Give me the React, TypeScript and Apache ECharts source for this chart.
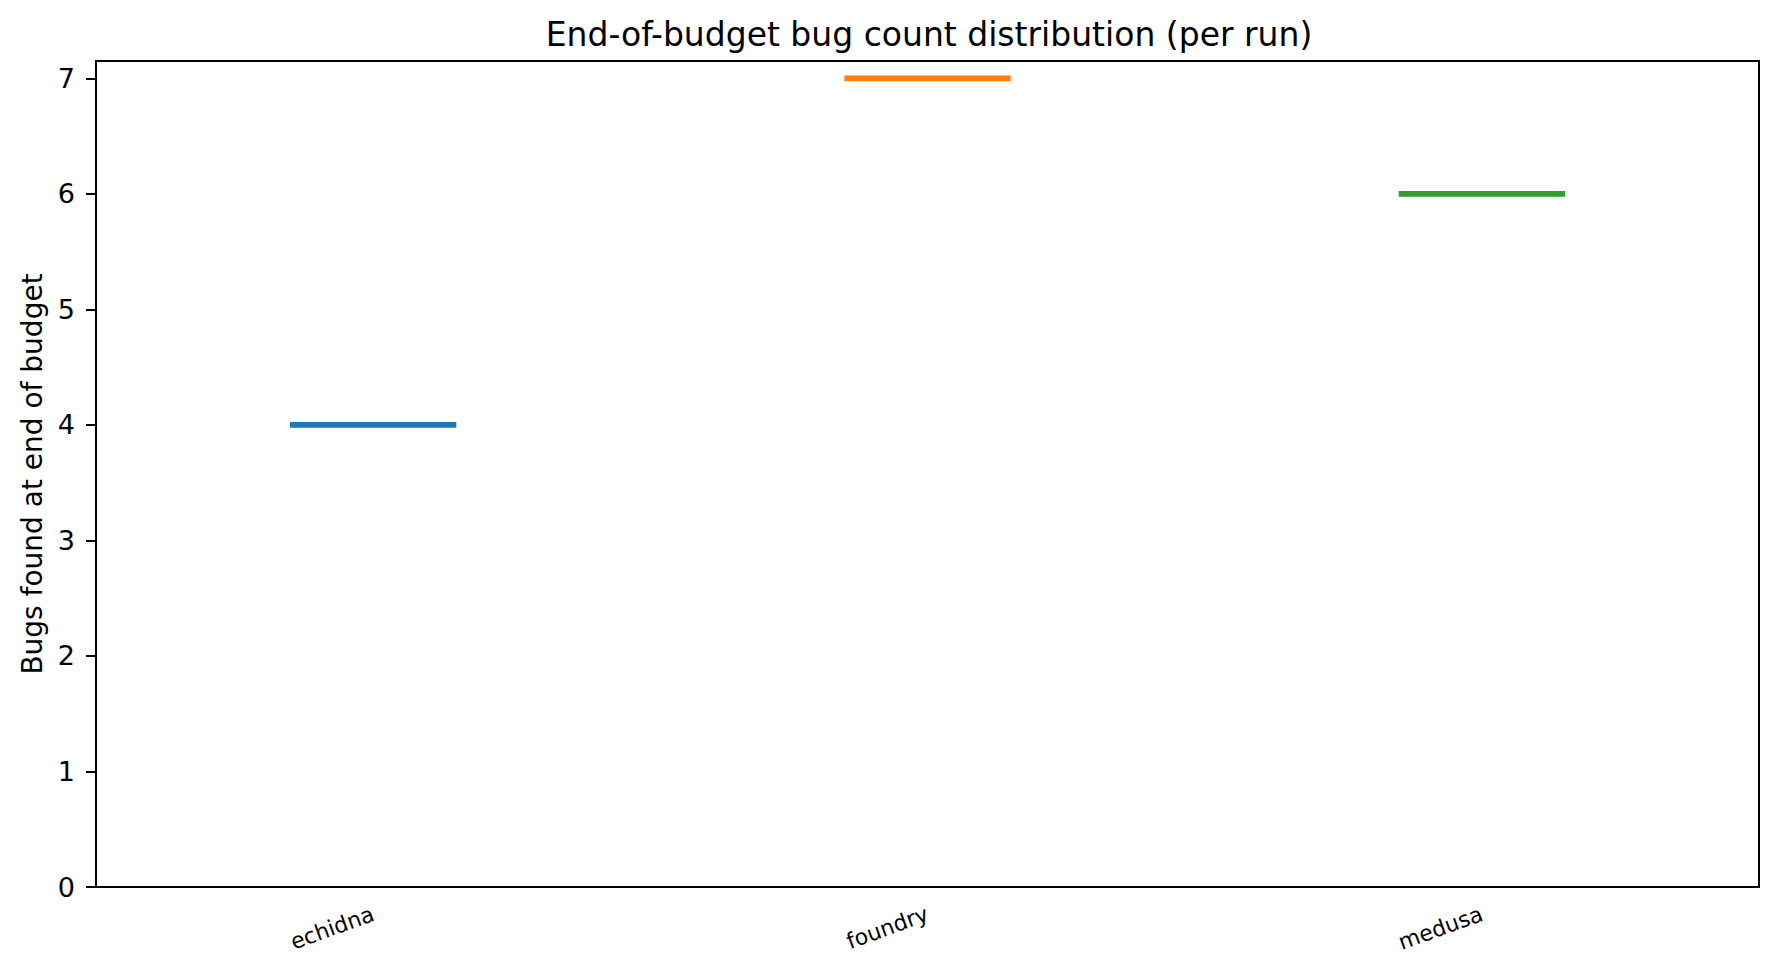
import { useEffect, useRef } from 'react'
import * as echarts from 'echarts'

const tools = ['echidna', 'foundry', 'medusa']
const bugCounts = [4, 7, 6]
const toolColors = ['#1f77b4', '#ff7f0e', '#2ca02c']
const yTicks = [0, 1, 2, 3, 4, 5, 6, 7]
const yMax = 7.15

const FONT = 'DejaVu Sans, sans-serif'

export default function App() {
  const chartRef = useRef<HTMLDivElement>(null)

  useEffect(() => {
    if (!chartRef.current) return

    const chart = echarts.init(chartRef.current, null, { renderer: 'svg' })

    const option = {
      animation: false,
      backgroundColor: '#fff',
      textStyle: { fontFamily: FONT },
      title: {
        text: 'End-of-budget bug count distribution (per run)',
        left: 924,
        top: 13,
        textAlign: 'center',
        textStyle: {
          fontFamily: FONT,
          fontSize: 33,
          fontWeight: 'normal',
          color: '#000',
        },
      },
      grid: {
        left: 96,
        right: 20,
        top: 61,
        bottom: 90,
        show: true,
        borderColor: '#000',
        borderWidth: 2,
        backgroundColor: 'transparent',
      },
      xAxis: {
        type: 'category',
        data: tools,
        boundaryGap: true,
        axisLine: { lineStyle: { color: '#000', width: 2 } },
        axisTick: {
          alignWithLabel: true,
          length: 10,
          lineStyle: { color: '#000', width: 2 },
        },
        axisLabel: {
          rotate: 20,
          margin: 26,
          fontSize: 22,
          fontFamily: FONT,
          color: '#000',
        },
        splitLine: { show: false },
      },
      yAxis: {
        type: 'value',
        min: 0,
        max: yMax,
        interval: 1,
        name: 'Bugs found at end of budget',
        nameLocation: 'middle',
        nameRotate: 90,
        nameGap: 50,
        nameTextStyle: { fontFamily: FONT, fontSize: 28, color: '#000' },
        axisLine: { show: true, lineStyle: { color: '#000', width: 2 } },
        axisTick: {
          show: true,
          length: 10,
          customValues: yTicks,
          lineStyle: { color: '#000', width: 2 },
        },
        axisLabel: {
          margin: 21,
          fontSize: 27,
          fontFamily: FONT,
          color: '#000',
          customValues: yTicks,
        },
        splitLine: { show: false },
      },
      series: [
        {
          type: 'custom',
          data: tools.map((_, i) => [i, bugCounts[i]]),
          encode: { x: 0, y: 1 },
          renderItem: (_params: any, api: any) => {
            const idx = api.value(0)
            const c = api.coord([idx, api.value(1)])
            const w = api.size([1, 0])[0] * 0.3
            return {
              type: 'line',
              shape: { x1: c[0] - w / 2, y1: c[1], x2: c[0] + w / 2, y2: c[1] },
              style: { stroke: toolColors[idx], lineWidth: 5.6, lineCap: 'butt' },
            }
          },
        },
      ],
    }

    chart.setOption(option)

    return () => {
      chart.dispose()
    }
  }, [])

  return (
    <div
      ref={chartRef}
      style={{ position: 'absolute', left: 0, top: 0, width: 1779, height: 977 }}
    />
  )
}
